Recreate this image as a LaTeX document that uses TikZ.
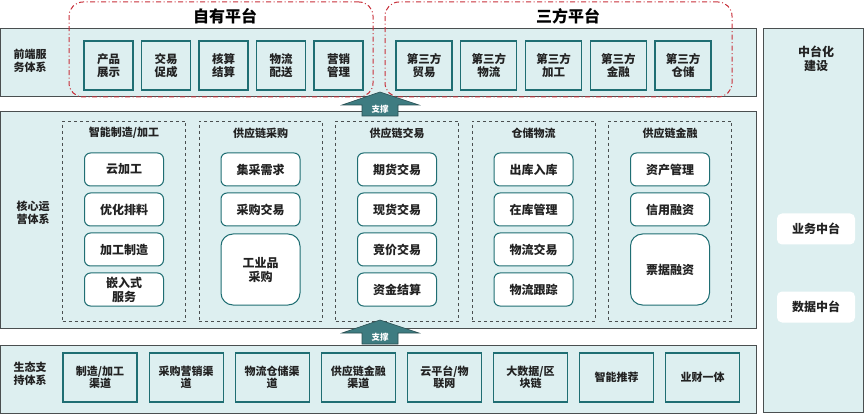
\documentclass[tikz,border=0pt]{standalone}
\usepackage{fontspec}
\setmainfont{Noto Sans CJK SC}
\usetikzlibrary{positioning}
\definecolor{bandfill}{HTML}{DDEFF0}
\definecolor{framegray}{HTML}{4A4F50}
\definecolor{tealline}{HTML}{1F6E73}
\definecolor{platred}{HTML}{C8303A}
\definecolor{arrowteal}{HTML}{3E7C81}
\definecolor{arrowedge}{HTML}{2A4F52}
\definecolor{inktext}{HTML}{222222}
\newcommand{\cjkfs}[2]{\fontsize{#1}{#2}\selectfont\bfseries}

\begin{document}
\begin{tikzpicture}[
    x=1pt, y=-1pt,
    band/.style={draw=framegray, fill=bandfill, line width=1pt, inner sep=0pt},
    sqbox/.style={draw=tealline, fill=bandfill, line width=1.2pt, inner sep=0pt,
      align=center, text=inktext, font=\cjkfs{11.5}{13.5}},
    rbox/.style={draw=tealline, fill=white, line width=1pt, rounded corners=6pt,
      minimum width=79, minimum height=33, inner sep=0pt,
      align=center, text=inktext, font=\cjkfs{12}{14}},
    bigbox/.style={rbox, rounded corners=12pt, minimum height=71},
    group/.style={draw=framegray, dashed, line width=0.9pt,
      minimum width=123, minimum height=200, inner sep=0pt},
    gtitle/.style={text=inktext, font=\cjkfs{11}{13}},
    lbl/.style={align=center, text=inktext, font=\cjkfs{11}{13}},
    platform/.style={draw=platred, line width=1pt, rounded corners=14pt,
      dash pattern=on 5pt off 2.5pt on 1pt off 2.5pt, inner sep=0pt},
    ptitle/.style={text=black, font=\cjkfs{16}{18}},
    midbox/.style={fill=white, rounded corners=5pt, minimum width=78,
      minimum height=31, text=inktext, font=\cjkfs{12}{14}},
    suparrow/.style={fill=arrowteal, draw=arrowedge, line width=0.6pt},
    suptext/.style={text=white, font=\cjkfs{8.5}{10}}
  ]
  \useasboundingbox (0,0) rectangle (865,414);

  % Bands (top to bottom) and middle-platform column
  \node[band, minimum width=756, minimum height=68]  (front) at (378,63)    {};
  \node[band, minimum width=756, minimum height=216] (core)  at (378,220)   {};
  \node[band, minimum width=756, minimum height=68]  (eco)   at (378,379)   {};
  \node[band, minimum width=100, minimum height=383] (mid)   at (813,220.5) {};

  % Band labels
  \node[lbl] (frontlbl) at (30,61)  {前端服\\务体系};
  \node[lbl] (corelbl)  at (33,213) {核心运\\营体系};
  \node[lbl] (ecolbl)   at (30,374) {生态支\\持体系};
  \node[lbl, font=\cjkfs{12}{14}] (midlbl) at (816,59) {中台化\\建设};

  % Front services
  \foreach \t [count=\i] in {产品\\展示, 交易\\促成, 核算\\结算, 物流\\配送, 营销\\管理} {
    \node[sqbox, minimum width=49, minimum height=49] (own\i) at (108.5+57.5*\i-57.5,65.5) {\t};
  }
  \foreach \t [count=\i] in {贸易, 物流, 加工, 金融, 仓储} {
    \node[sqbox, minimum width=56, minimum height=49] (third\i) at (424+64.75*\i-64.75,65.5) {第三方\\\t};
  }

  % Platforms
  \node[platform, minimum width=304, minimum height=95] (ownplat)   at (221,49.5)   {};
  \node[platform, minimum width=347, minimum height=95] (thirdplat) at (558.5,49.5) {};
  \node[ptitle] (owntitle)   at (225,16) {自有平台};
  \node[ptitle] (thirdtitle) at (568,16) {三方平台};

  % Core groups
  \node[group] (G1) at (124,221)   {};
  \node[group] (G2) at (260.5,221) {};
  \node[group] (G3) at (397,221)   {};
  \node[group] (G4) at (533.5,221) {};
  \node[group] (G5) at (670,221)   {};
  \node[gtitle] at (124,133)   {智能制造/加工};
  \node[gtitle] at (260.5,133) {供应链采购};
  \node[gtitle] at (397,133)   {供应链交易};
  \node[gtitle] at (533.5,133) {仓储物流};
  \node[gtitle] at (670,133)   {供应链金融};

  \node[rbox] (G1a) at (124,169.5) {云加工};
  \node[rbox] (G1b) at (124,209.5) {优化排料};
  \node[rbox] (G1c) at (124,249.5) {加工制造};
  \node[rbox] (G1d) at (124,289.5) {嵌入式\\服务};

  \node[rbox]   (G2a) at (260.5,169.5) {集采需求};
  \node[rbox]   (G2b) at (260.5,209.5) {采购交易};
  \node[bigbox] (G2c) at (260.5,269.5) {工业品\\采购};

  \node[rbox] (G3a) at (397,169.5) {期货交易};
  \node[rbox] (G3b) at (397,209.5) {现货交易};
  \node[rbox] (G3c) at (397,249.5) {竞价交易};
  \node[rbox] (G3d) at (397,289.5) {资金结算};

  \node[rbox] (G4a) at (533.5,169.5) {出库入库};
  \node[rbox] (G4b) at (533.5,209.5) {在库管理};
  \node[rbox] (G4c) at (533.5,249.5) {物流交易};
  \node[rbox] (G4d) at (533.5,289.5) {物流跟踪};

  \node[rbox]   (G5a) at (670,169.5) {资产管理};
  \node[rbox]   (G5b) at (670,209.5) {信用融资};
  \node[bigbox] (G5c) at (670,269.5) {票据融资};

  % Ecosystem channels
  \foreach \t [count=\i] in {制造/加工\\渠道, 采购营销渠\\道, 物流仓储渠\\道, 供应链金融\\渠道,
                             云平台/物\\联网, 大数据/区\\块链, 智能推荐, 业财一体} {
    \node[sqbox, minimum width=74, minimum height=49, font=\cjkfs{11}{12.5}] (eco\i) at (100+86.1*\i-86.1,377.5) {\t};
  }

  % Middle platforms
  \node[midbox] (biz)  at (816,229) {业务中台};
  \node[midbox] (data) at (816,307) {数据中台};

  % Support arrows
  \foreach \y/\n in {92/S1, 320/S2} {
    \fill[suparrow] (362,\y+24) -- (362,\y+13) -- (342,\y+13) -- (380,\y)
      -- (419,\y+13) -- (398,\y+13) -- (398,\y+24) -- cycle;
    \node[suptext] (\n) at (380,\y+17.5) {支撑};
  }
\end{tikzpicture}
\end{document}
